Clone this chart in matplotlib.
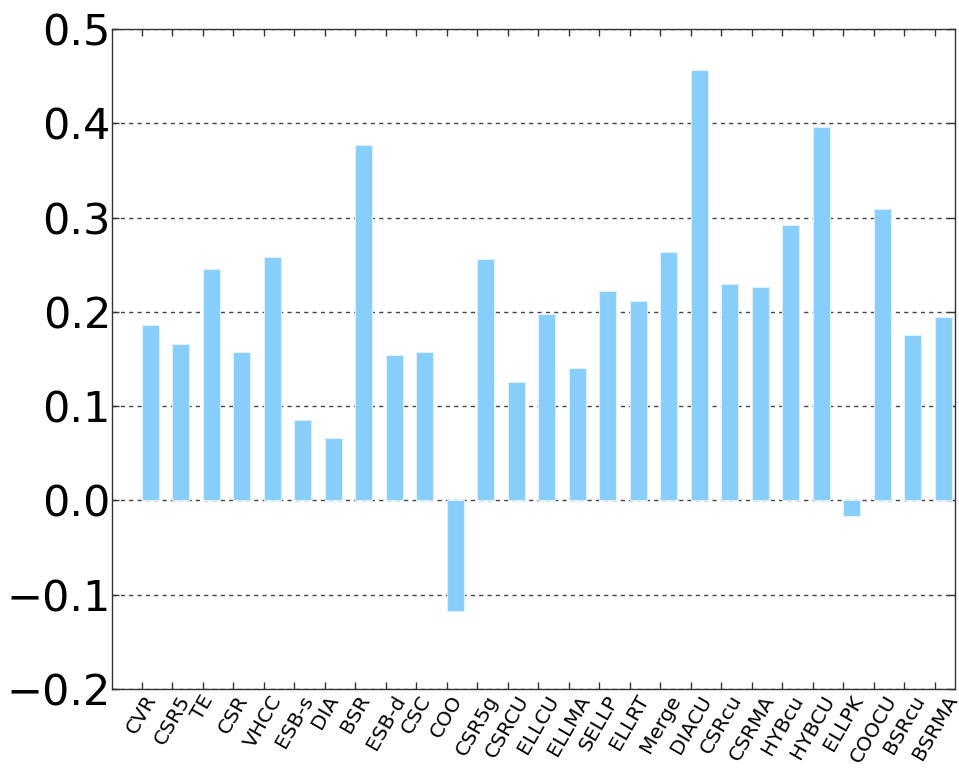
import matplotlib
matplotlib.use("Agg")
import matplotlib.pyplot as plt
import numpy as np

categories = ["CVR", "CSR5", "TE", "CSR", "VHCC", "ESB-s", "DIA", "BSR", "ESB-d",
              "CSC", "COO", "CSR5g", "CSRCU", "ELLCU", "ELLMA", "SELLP", "ELLRT",
              "Merge", "DIACU", "CSRcu", "CSRMA", "HYBcu", "HYBCU", "ELLPK",
              "COOCU", "BSRcu", "BSRMA"]
values = [0.186, 0.166, 0.246, 0.158, 0.258, 0.085, 0.066, 0.377, 0.154,
          0.158, -0.117, 0.256, 0.126, 0.198, 0.140, 0.222, 0.212,
          0.264, 0.457, 0.230, 0.226, 0.292, 0.396, -0.016,
          0.309, 0.176, 0.195]
yticks = [-0.2, -0.1, 0.0, 0.1, 0.2, 0.3, 0.4, 0.5]

fig = plt.figure(figsize=(9.59, 7.71), dpi=100)
ax = fig.add_axes([0.1168, 0.1063, 0.8790, 0.8560])

x = np.arange(len(categories))
ax.bar(x, values, width=0.56, align="edge", color="#87CEFA",
       edgecolor="#ddf0fd", linewidth=0.8, zorder=2)

ax.set_xlim(-0.97, 26.66)
ax.set_ylim(-0.2, 0.5)
ax.set_yticks(yticks)
ax.set_yticklabels([f"{v:.1f}".replace("-", "\u2212") for v in yticks], fontsize=31)
ax.set_xticks(x)
ax.set_xticklabels(categories, rotation=60, fontsize=14.5)

ax.yaxis.grid(True, color="#444444", linestyle=(0, (3, 3)), linewidth=1.0, zorder=0)
ax.set_axisbelow(True)
ax.tick_params(axis="both", direction="in", top=True, right=True, length=5,
               width=1, color="#333333")
ax.tick_params(axis="y", pad=0.8)
ax.tick_params(axis="x", pad=2)
for s in ax.spines.values():
    s.set_color("#333333")
    s.set_linewidth(1.0)

fig.savefig("out.png", dpi=100)
